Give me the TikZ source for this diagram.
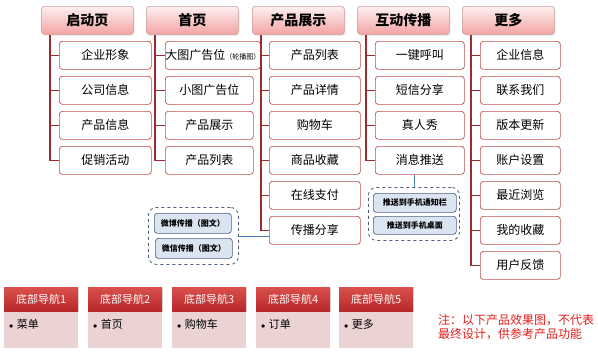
\documentclass[tikz,border=0pt]{standalone}
\usepackage{fontspec}
\setmainfont{Noto Sans CJK SC}
\usetikzlibrary{shadows}
\definecolor{hdtop}{HTML}{FDF0F0}
\definecolor{hdbot}{HTML}{F4A3A3}
\definecolor{hdline}{HTML}{C9A0A0}
\definecolor{chline}{HTML}{C0504D}
\definecolor{trunkc}{HTML}{9B2D30}
\definecolor{grpline}{HTML}{4A5A7A}
\definecolor{pfill}{HTML}{DBE5F1}
\definecolor{pline}{HTML}{4F6382}
\definecolor{navtop}{HTML}{D9504C}
\definecolor{navbot}{HTML}{B8282A}
\definecolor{navbody}{HTML}{EBD3D4}
\definecolor{linkc}{HTML}{4F81BD}
\definecolor{notec}{HTML}{E3201E}
\tikzset{
  hdr/.style={draw=hdline, line width=0.6pt, rounded corners=3pt, top color=hdtop, bottom color=hdbot,
    minimum width=92pt, minimum height=28pt, inner sep=0pt, anchor=north west,
    font=\fontsize{14pt}{16pt}\selectfont\bfseries,
    drop shadow={opacity=0.25, shadow xshift=1pt, shadow yshift=-1.2pt}},
  childbox/.style={draw=chline, line width=0.7pt, rounded corners=3pt, fill=white,
    minimum height=28pt, inner sep=0pt, anchor=north west,
    font=\fontsize{12pt}{14pt}\selectfont},
  trunk/.style={draw=trunkc, line width=1.6pt},
  grp/.style={draw=grpline, dashed, line width=0.8pt, rounded corners=8pt, inner sep=0pt, anchor=north west},
  pbox/.style={draw=pline, line width=0.7pt, fill=pfill, rounded corners=3pt, inner sep=0pt, anchor=north west,
    font=\fontsize{8pt}{9pt}\selectfont\bfseries},
  navh/.style={top color=navtop, bottom color=navbot, draw=none, minimum width=74pt, minimum height=24pt,
    inner sep=0pt, anchor=north west, text=white!92!pink, font=\fontsize{11pt}{13pt}\selectfont,
    drop shadow={opacity=0.2, shadow xshift=0.8pt, shadow yshift=-0.8pt}},
  navb/.style={fill=navbody, draw=none, minimum width=74pt, minimum height=37pt, inner sep=0pt, anchor=north west},
  navt/.style={anchor=west, inner sep=0pt, font=\fontsize{11pt}{13pt}\selectfont},
  link/.style={draw=linkc, line width=0.6pt},
  note/.style={anchor=north west, inner sep=0pt, text=notec, align=left, font=\fontsize{12pt}{14.5pt}\selectfont}
}
\begin{document}
\begin{tikzpicture}[x=1pt,y=-1pt]
\fill[white] (0,0) rectangle (598,354);
\useasboundingbox (0,0) rectangle (598,354);

% headers
\node[hdr] (ha) at (41,6) {启动页};
\node[hdr] (hb) at (146,6) {首页};
\node[hdr] (hc) at (252,6) {产品展示};
\node[hdr] (hd) at (357,6) {互动传播};
\node[hdr] (he) at (462,6) {更多};
\foreach \h in {a,b,c,d,e} \coordinate (t\h) at ([xshift=9pt]h\h.south west);

% column a
\foreach \t [count=\i] in {企业形象,公司信息,产品信息,促销活动}
  \node[childbox, minimum width=92pt] (a\i) at (59,{41+35*(\i-1)}) {\t};
% column b
\foreach \t [count=\i] in {{大图广告位{\fontsize{7pt}{8pt}\selectfont （轮播图）}},小图广告位,产品展示,产品列表}
  \node[childbox, minimum width=88pt] (b\i) at (165,{41+35*(\i-1)}) {\t};
% column c
\foreach \t [count=\i] in {产品列表,产品详情,购物车,商品收藏,在线支付,传播分享}
  \node[childbox, minimum width=91pt] (c\i) at (269,{41+35*(\i-1)}) {\t};
% column d
\foreach \t [count=\i] in {一键呼叫,短信分享,真人秀,消息推送}
  \node[childbox, minimum width=89pt] (d\i) at (375,{41+35*(\i-1)}) {\t};
% column e
\foreach \t [count=\i] in {企业信息,联系我们,版本更新,账户设置,最近浏览,我的收藏,用户反馈}
  \node[childbox, minimum width=80pt] (e\i) at (480,{41+35*(\i-1)}) {\t};

% trunks
\draw[trunk] (ta) |- (a4.west);
\foreach \i in {1,2,3} \draw[trunk] (a\i.west) -- (ta |- a\i.west);
\draw[trunk] (tb) |- (b4.west);
\foreach \i in {1,2,3} \draw[trunk] (b\i.west) -- (tb |- b\i.west);
\draw[trunk] (tc) |- (c6.west);
\foreach \i in {1,...,5} \draw[trunk] (c\i.west) -- (tc |- c\i.west);
\draw[trunk] (td) |- (d4.west);
\foreach \i in {1,2,3} \draw[trunk] (d\i.west) -- (td |- d\i.west);
\draw[trunk] (te) |- (e7.west);
\foreach \i in {1,...,6} \draw[trunk] (e\i.west) -- (te |- e\i.west);

% group 1
\node[grp, minimum width=90pt, minimum height=57pt] (g1) at (148,207) {};
\node[pbox, minimum width=77pt, minimum height=20pt] (g1a) at (154,213) {微博传播（图文）};
\node[pbox, minimum width=77pt, minimum height=20pt] (g1b) at (155,238) {微信传播（图文）};
\draw[link] (g1.east) -- (g1.east -| c6.west);

% group 2
\node[grp, minimum width=91pt, minimum height=53pt] (g2) at (368,187) {};
\node[pbox, minimum width=83pt, minimum height=19pt] (g2a) at (373,193) {推送到手机通知栏};
\node[pbox, minimum width=83pt, minimum height=18pt] (g2b) at (373,216) {推送到手机桌面};
\draw[link] (g2.north) -- (g2.north |- d4.south);

% bottom navigation
\foreach \x/\t/\b [count=\i] in {4/底部导航1/菜单, 88/底部导航2/首页, 172/底部导航3/购物车, 256/底部导航4/订单, 339/底部导航5/更多}{
  \node[navb] (nb\i) at (\x,311) {};
  \node[navh] (nh\i) at (\x,287) {\t};
  \node[navt] (nt\i) at (\x+5,324) {$\scriptstyle\bullet$\kern3.5pt\b};
}

% note
\node[note] (nt) at (438,314) {注：以下产品效果图，不代表\\最终设计，供参考产品功能};
\end{tikzpicture}
\end{document}
